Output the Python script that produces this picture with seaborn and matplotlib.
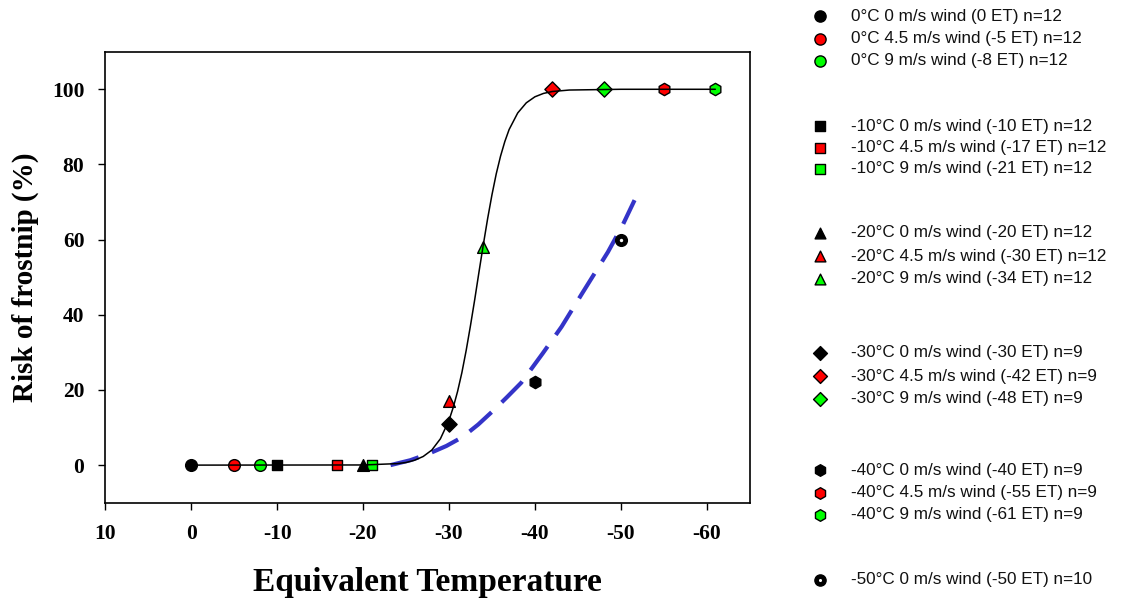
import numpy as np
import pandas as pd
import matplotlib
matplotlib.use("Agg")
import matplotlib.pyplot as plt
import seaborn as sns

# ---------------- data ----------------
labels = [
    "0°C 0 m/s wind (0 ET) n=12",
    "0°C 4.5 m/s wind (-5 ET) n=12",
    "0°C 9 m/s wind (-8 ET) n=12",
    "-10°C 0 m/s wind (-10 ET) n=12",
    "-10°C 4.5 m/s wind (-17 ET) n=12",
    "-10°C 9 m/s wind (-21 ET) n=12",
    "-20°C 0 m/s wind (-20 ET) n=12",
    "-20°C 4.5 m/s wind (-30 ET) n=12",
    "-20°C 9 m/s wind (-34 ET) n=12",
    "-30°C 0 m/s wind (-30 ET) n=9",
    "-30°C 4.5 m/s wind (-42 ET) n=9",
    "-30°C 9 m/s wind (-48 ET) n=9",
    "-40°C 0 m/s wind (-40 ET) n=9",
    "-40°C 4.5 m/s wind (-55 ET) n=9",
    "-40°C 9 m/s wind (-61 ET) n=9",
    "-50°C 0 m/s wind (-50 ET) n=10",
]
et_values = [0, -5, -8, -10, -17, -21, -20, -30, -34, -30, -42, -48, -40, -55, -61, -50]
risk_values = [0, 0, 0, 0, 0, 0, 0, 17, 58, 11, 100, 100, 22, 100, 100, 60]

# fitted sigmoid
fit_x = [0, -20, -24, -25, -26, -27, -28, -29, -30, -30.5, -31, -31.5, -32, -32.5,
         -33, -33.5, -34, -34.5, -35, -35.5, -36, -36.5, -37, -38, -39, -40, -41,
         -42, -44, -50, -61]
fit_y = [0, 0.04, 0.4, 0.7, 1.3, 2.3, 4.0, 7.0, 11.9, 15.4, 19.6, 24.6, 30.5, 37.1,
         44.1, 51.5, 58.7, 65.6, 71.9, 77.5, 82.2, 86.1, 89.3, 93.7, 96.4, 98.0, 98.9,
         99.4, 99.8, 100, 100]

# blue dashed curve
dash_x = [-23.2, -25.5, -27.7, -29.7, -31.6, -33.4, -35.2, -36.8, -38.4, -40.9,
          -43.1, -45.5, -48.5, -50.2, -51.6]
dash_y = [0, 1.3, 3.1, 5.1, 7.5, 10.8, 14.6, 18.2, 21.9, 29.7,
          36.8, 45.7, 56.7, 63.8, 70.5]

x_ticks = [10, 0, -10, -20, -30, -40, -50, -60]
y_ticks = [0, 20, 40, 60, 80, 100]

# ---------------- styles ----------------
BLACK, RED, GREEN = "#000000", "#ff0000", "#00ff00"
point_colors = [BLACK, RED, GREEN] * 5 + [BLACK]
point_markers = ["o"] * 3 + ["s"] * 3 + ["^"] * 3 + ["D"] * 3 + ["h"] * 3 + ["o"]
point_sizes = [95, 95, 95, 75, 75, 75, 95, 95, 95, 80, 80, 80, 105, 105, 105, 95]

sns.set_style("ticks")
plt.rcParams["axes.unicode_minus"] = False
plt.rcParams["font.family"] = ["Liberation Serif", "DejaVu Serif"]
plt.rcParams["text.color"] = "black"
plt.rcParams["axes.labelcolor"] = "black"

fig = plt.figure(figsize=(11.22, 6.01), dpi=100)
ax = fig.add_axes([105.3 / 1122, 1 - 502.7 / 601, (749.7 - 105.3) / 1122, (502.7 - 51.7) / 601])

df = pd.DataFrame({"et": et_values, "risk": risk_values, "label": labels})

for i, row in df.iterrows():
    sns.scatterplot(data=df.iloc[[i]], x="et", y="risk", ax=ax,
                    marker=point_markers[i], s=point_sizes[i] * 0.75,
                    color=point_colors[i], edgecolor="black",
                    linewidth=1, zorder=3, legend=False)
# white centre dot of the -50 ET marker
sns.scatterplot(data=df.iloc[[15]], x="et", y="risk", ax=ax, marker="o", s=6,
                color="white", linewidth=0, zorder=3.5, legend=False)

fit_df = pd.DataFrame({"x": fit_x, "y": fit_y})
sns.lineplot(data=fit_df, x="x", y="y", ax=ax, color="black", lw=1.1,
             sort=False, zorder=4)
dash_df = pd.DataFrame({"x": dash_x, "y": dash_y})
sns.lineplot(data=dash_df, x="x", y="y", ax=ax, color="#3434c8", lw=3,
             sort=False, zorder=2, dashes=False, linestyle=(0, (7, 3.4)))

ax.set_xlim(10, -65)
ax.set_ylim(-10, 110)
ax.set_xticks(x_ticks)
ax.set_xticklabels([str(t) for t in x_ticks])
ax.set_yticks(y_ticks)
ax.set_yticklabels([str(t) for t in y_ticks])
ax.tick_params(axis="both", direction="out", length=5, width=1, colors="black",
               labelsize=15.5, pad=10, top=False, right=False)
for lab in ax.get_xticklabels() + ax.get_yticklabels():
    lab.set_fontweight("bold")
for sp in ax.spines.values():
    sp.set_visible(True)
    sp.set_linewidth(1.2)
    sp.set_color("black")

ax.set_xlabel("Equivalent Temperature", fontsize=24, fontweight="bold", labelpad=17,
              color="black")
ax.set_ylabel("Risk of frostnip (%)", fontsize=21, fontweight="bold", labelpad=9,
              color="black")

# ---------------- legend (manual) ----------------
lax = fig.add_axes([0, 0, 1, 1], zorder=5)
lax.set_xlim(0, 1122)
lax.set_ylim(601, 0)
lax.axis("off")
legend_rows = [16, 38.5, 61, 126, 147.5, 169, 233, 256, 278.5, 353, 376, 398.5,
               470, 492.5, 515, 579.5]
leg_sizes = [65, 65, 65, 50, 50, 50, 60, 60, 60, 50, 50, 50, 70, 70, 70, 65]
for i, yy in enumerate(legend_rows):
    lax.scatter([820.5], [yy], marker=point_markers[i], s=leg_sizes[i],
                c=point_colors[i], edgecolors="black", linewidths=1, zorder=3)
    if i == 15:
        lax.scatter([820.5], [yy], marker="o", s=5, c="white", linewidths=0, zorder=4)
    lax.text(851, yy, labels[i], fontsize=12.3, family=["Liberation Sans", "DejaVu Sans"],
             va="center", ha="left", color="#111111")

fig.savefig("out.png", dpi=100)
